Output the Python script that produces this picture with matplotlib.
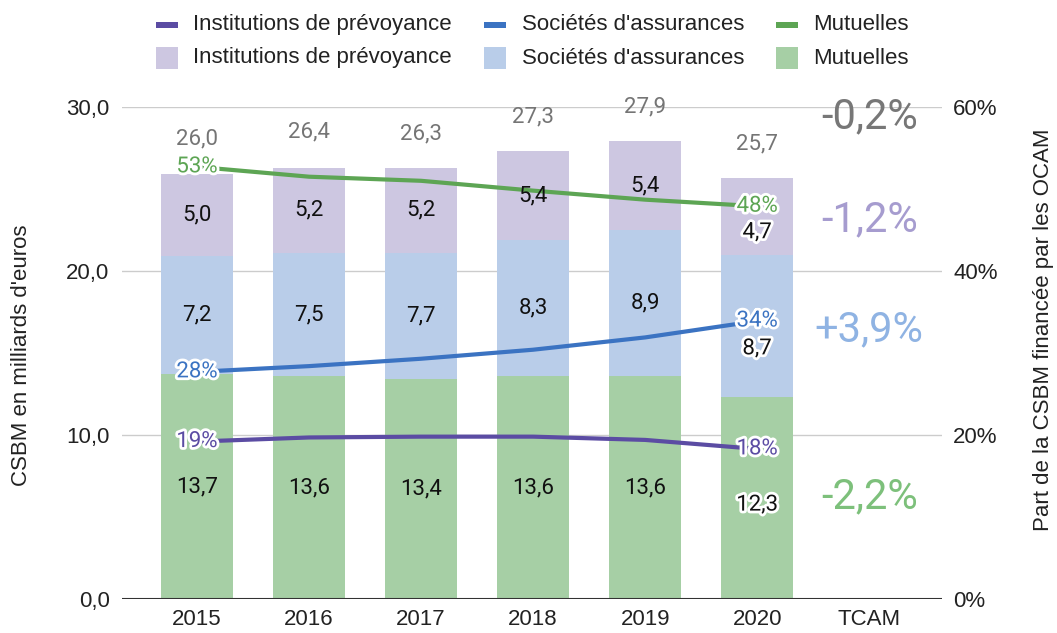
import matplotlib.pyplot as plt
import matplotlib.patheffects as pe
from matplotlib.patches import Rectangle

# DONNEES
annees = ['2015', '2016', '2017', '2018', '2019', '2020']
categories = annees + ['TCAM']
mutuelles = [13.7, 13.6, 13.4, 13.6, 13.6, 12.3]
societes = [7.2, 7.5, 7.7, 8.3, 8.9, 8.7]
institutions = [5.0, 5.2, 5.2, 5.4, 5.4, 4.7]
totaux = [26.0, 26.4, 26.3, 27.3, 27.9, 25.7]

# part de la CSBM financée par les OCAM (%)
part_mut = [52.7, 51.5, 51.0, 49.8, 48.7, 47.9]
part_sa = [27.7, 28.4, 29.3, 30.4, 31.9, 33.9]
part_ip = [19.2, 19.7, 19.8, 19.8, 19.4, 18.3]

tcam_txt = ['-0,2%', '-1,2%', '+3,9%', '-2,2%']
tcam_y = [29.4, 23.1, 16.4, 6.2]

# COULEURS
c_ip_bar, c_sa_bar, c_mu_bar = '#cdc7e1', '#b9cde9', '#a6cfa5'
c_ip, c_sa, c_mu = '#5b4ca3', '#3b73c2', '#5da554'
c_tcam = ['#777777', '#a69ccf', '#8fb3e3', '#7dc07b']
gris = '#757575'

W, H = 1057, 633
fig = plt.figure(figsize=(W / 100, H / 100), dpi=100)
ax = fig.add_axes([122 / W, 1 - 599 / H, 820 / W, 492 / H])
ax2 = ax.twinx()

f_ax = 'Liberation Sans'
f_lab = 'Roboto'
fs = 16

x = list(range(len(annees)))
bas2 = [m + s for m, s in zip(mutuelles, societes)]
larg = 0.64
ax.bar(x, mutuelles, width=larg, color=c_mu_bar, zorder=2)
ax.bar(x, societes, bottom=mutuelles, width=larg, color=c_sa_bar, zorder=2)
ax.bar(x, institutions, bottom=bas2, width=larg, color=c_ip_bar, zorder=2)
ax.bar([6], [0.0], width=larg, color=c_mu_bar, edgecolor=c_mu_bar, linewidth=1, zorder=2)

ax.set_xlim(-0.67, 6.65)
ax.set_ylim(0, 30)
ax2.set_ylim(0, 60)
ax.set_yticks([0, 10, 20, 30])
ax.set_yticklabels(['0,0', '10,0', '20,0', '30,0'], fontsize=fs, family=f_ax, color='#222222')
ax2.set_yticks([0, 20, 40, 60])
ax2.set_yticklabels(['0%', '20%', '40%', '60%'], fontsize=fs, family=f_ax, color='#222222')
ax.set_xticks(range(len(categories)))
ax.set_xticklabels(categories, fontsize=fs, family=f_ax, color='#222222')
ax.tick_params(axis='y', length=0, pad=9)
ax.tick_params(axis='x', length=0, pad=7)
ax2.tick_params(axis='y', length=0, pad=8)
for a in (ax, ax2):
    for s in a.spines.values():
        s.set_visible(False)
ax.yaxis.grid(True, color='#cccccc', linewidth=1)
ax.set_axisbelow(True)
ax.axhline(0, color='#333333', linewidth=1.5, zorder=3)

fig.text(22 / W, 1 - 355 / H, "CSBM en milliards d'euros", rotation=90, ha='center',
         va='center', fontsize=fs, family=f_ax, color='#222222')
fig.text(1043 / W, 1 - 330 / H, 'Part de la CSBM financée par les OCAM', rotation=90,
         ha='center', va='center', fontsize=fs, family=f_ax, color='#222222')

# courbes
halo = [pe.withStroke(linewidth=4, foreground='white')]
for parts, c in [(part_ip, c_ip), (part_sa, c_sa), (part_mut, c_mu)]:
    ax2.plot(x, parts, color=c, linewidth=3, solid_capstyle='round', zorder=3)
    for i in (0, len(x) - 1):
        ax2.text(x[i], parts[i], f'{parts[i]:.0f}%', color=c, fontsize=fs, family=f_lab,
                 ha='center', va='center', path_effects=halo, zorder=6)

# étiquettes des segments
decal_2020 = [-5, -16.5, -12]
for i in x:
    segs = [(mutuelles[i], 0), (societes[i], mutuelles[i]), (institutions[i], bas2[i])]
    for k, (v, b) in enumerate(segs):
        dy = decal_2020[k] if i == len(x) - 1 else 0
        eff = halo if i == len(x) - 1 else None
        ax2.annotate(f'{v:.1f}'.replace('.', ','), xy=(i, b + v / 2), xycoords=ax.transData,
                     xytext=(0, dy), textcoords='offset points', ha='center', va='center',
                     fontsize=fs, family=f_lab, color='#111111', path_effects=eff, zorder=7)
    ax2.annotate(f'{totaux[i]:.1f}'.replace('.', ','), xy=(i, totaux[i]), xycoords=ax.transData,
                 xytext=(0, 24.5), textcoords='offset points', ha='center', va='center',
                 fontsize=fs, family=f_lab, color=gris, zorder=7)

# TCAM
for t, yy, c in zip(tcam_txt, tcam_y, c_tcam):
    ax2.text(6, yy, t, transform=ax.transData, ha='center', va='center',
             fontsize=30, family=f_lab, color=c, zorder=7)

# légende
def px(xp, yp):
    return xp / W, 1 - yp / H

entrees = [('Institutions de prévoyance', c_ip, c_ip_bar, 156, 193),
           ("Sociétés d'assurances", c_sa, c_sa_bar, 484, 522),
           ('Mutuelles', c_mu, c_mu_bar, 776, 813)]
for nom, cl, cb, xm, xt in entrees:
    fig.add_artist(Rectangle(px(xm, 28), 22 / W, 6 / H, transform=fig.transFigure,
                             color=cl, linewidth=0))
    fig.add_artist(Rectangle(px(xm, 69), 22 / W, 22 / H, transform=fig.transFigure,
                             color=cb, linewidth=0))
    for yy in (24.5, 58):
        fig.text(*px(xt, yy), nom, ha='left', va='center', fontsize=fs,
                 family=f_ax, color='#222222')

fig.savefig('out.png', dpi=100)
